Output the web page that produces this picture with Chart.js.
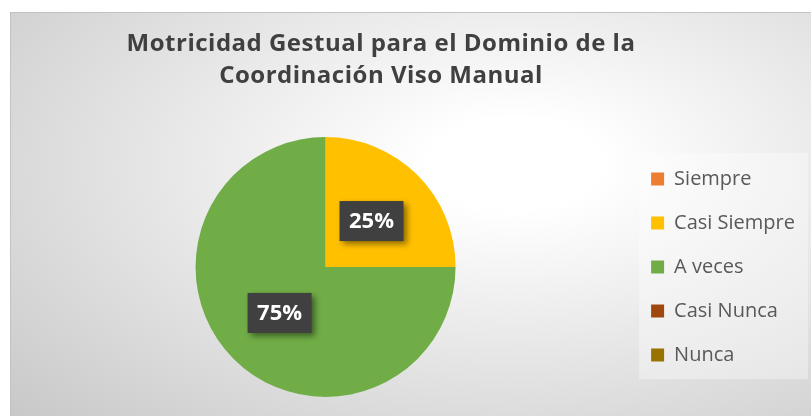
<!DOCTYPE html>
<html>
<head>
<meta charset="utf-8">
<script src="https://cdn.jsdelivr.net/npm/chart.js@4.4.1/dist/chart.umd.min.js"></script>
<style>
    html, body { margin: 0; padding: 0; background: #ffffff; overflow: hidden; }
    #wrap { position: relative; width: 811px; height: 416px; }
    #fondo {
        position: absolute; left: 10px; top: 12px; width: 812px; height: 420px;
        border-left: 1px solid #c2c2c2; border-top: 1px solid #c2c2c2;
        background: radial-gradient(ellipse at 62% 36%, #ffffff 0%, #ffffff 12%, #c6c6c6 100%);
    }
    #grafico { position: absolute; left: 0; top: 0; }
</style>
</head>
<body>
<div id="wrap">
    <div id="fondo"></div>
    <canvas id="grafico" width="811" height="416"></canvas>
</div>
<script>
// Datos
const categorias = ['Siempre', 'Casi Siempre', 'A veces', 'Casi Nunca', 'Nunca'];
const porcentajes = [0, 25, 75, 0, 0];
const colores = ['#ED7D31', '#FFC000', '#70AD47', '#9E480E', '#997300'];
const titulo = ['Motricidad Gestual para el Dominio de la', 'Coordinación Viso Manual'];

// Título dibujado a mano (centrado sobre el área del gráfico, no sobre el lienzo)
const tituloPlugin = {
    id: 'tituloPlugin',
    afterDraw(chart) {
        const ctx = chart.ctx;
        ctx.save();
        ctx.font = 'bold 24px "Open Sans"';
        ctx.letterSpacing = '0.5px';
        ctx.fillStyle = '#404040';
        ctx.textAlign = 'center';
        ctx.textBaseline = 'middle';
        titulo.forEach((linea, i) => {
            ctx.fillText(linea, 381, 44 + i * 32);
        });
        ctx.restore();
    }
};

// Fondo claro detrás de la leyenda
const fondoLeyenda = {
    id: 'fondoLeyenda',
    beforeDraw(chart) {
        const cajas = chart.legend.legendHitBoxes;
        if (!cajas || !cajas.length) return;
        const ctx = chart.ctx;
        const top = cajas[0].top - 16;
        const bottom = cajas[cajas.length - 1].top + cajas[cajas.length - 1].height + 14;
        const left = cajas[0].left - 12;
        ctx.save();
        ctx.fillStyle = 'rgba(255,255,255,0.35)';
        ctx.fillRect(left, top, 808 - left, bottom - top);
        ctx.restore();
    }
};

// Etiquetas de porcentaje en cajas oscuras
const etiquetas = {
    id: 'etiquetas',
    afterDatasetsDraw(chart) {
        const ctx = chart.ctx;
        const meta = chart.getDatasetMeta(0);
        const total = porcentajes.reduce((a, b) => a + b, 0);
        meta.data.forEach((arco, i) => {
            if (!porcentajes[i]) return;
            const p = arco.tooltipPosition();
            const texto = Math.round(porcentajes[i] / total * 100) + '%';
            ctx.save();
            ctx.shadowColor = 'rgba(0,0,0,0.45)';
            ctx.shadowBlur = 6;
            ctx.shadowOffsetX = 3;
            ctx.shadowOffsetY = 3;
            ctx.fillStyle = '#404040';
            ctx.fillRect(p.x - 32, p.y - 20, 64, 40);
            ctx.restore();
            ctx.save();
            ctx.font = 'bold 22px "Open Sans"';
            ctx.fillStyle = '#ffffff';
            ctx.textAlign = 'center';
            ctx.textBaseline = 'middle';
            ctx.fillText(texto, p.x, p.y + 1);
            ctx.restore();
        });
    }
};

const ctx = document.getElementById('grafico').getContext('2d');
new Chart(ctx, {
    type: 'pie',
    data: {
        labels: categorias,
        datasets: [{
            data: porcentajes,
            backgroundColor: colores,
            borderWidth: 0
        }]
    },
    options: {
        responsive: false,
        animation: false,
        layout: {
            padding: { top: 137, bottom: 19, left: 24, right: 6 }
        },
        plugins: {
            title: { display: false },
            tooltip: { enabled: false },
            legend: {
                position: 'right',
                labels: {
                    boxWidth: 13,
                    boxHeight: 13,
                    padding: 24,
                    color: '#595959',
                    font: { family: 'Open Sans', size: 20 }
                }
            }
        }
    },
    plugins: [fondoLeyenda, etiquetas, tituloPlugin]
});
</script>
</body>
</html>
